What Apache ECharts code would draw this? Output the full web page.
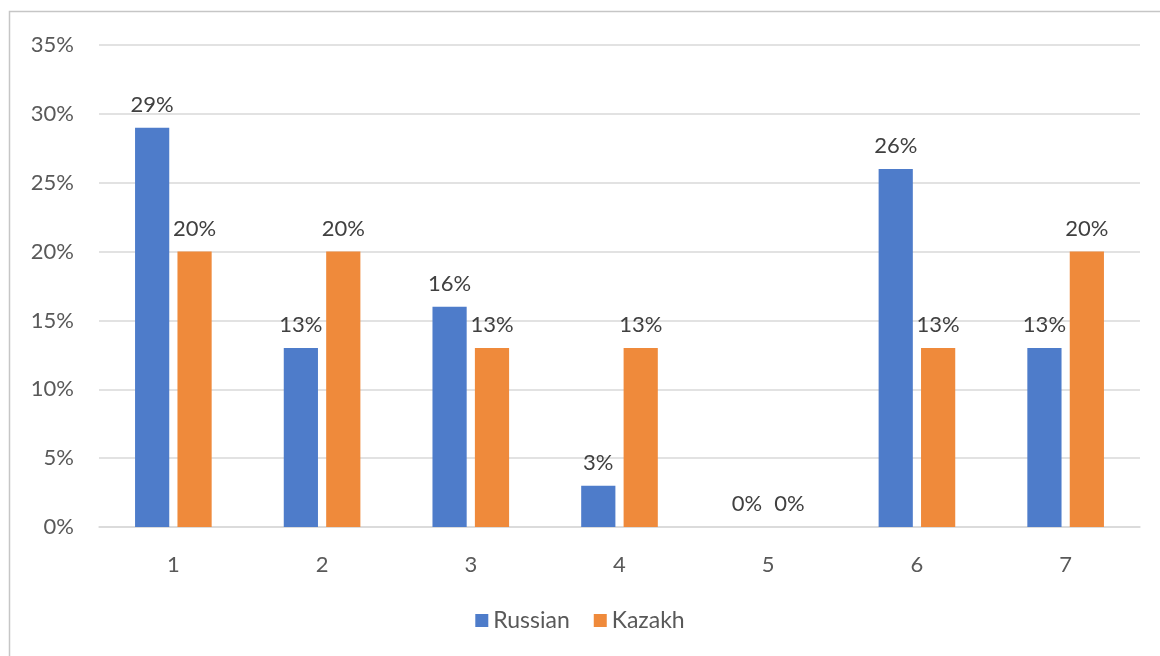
<!DOCTYPE html>
<html><head><meta charset="utf-8">
<script src="https://cdn.jsdelivr.net/npm/echarts@6/dist/echarts.min.js"></script>
<style>html,body{margin:0;padding:0;background:#fff}#c{width:1160px;height:656px}</style>
</head><body><div id="c"></div>
<script>
const categories = ['1','2','3','4','5','6','7'];
const russian = [29, 13, 16, 3, 0, 26, 13];
const kazakh = [20, 20, 13, 13, 0, 13, 20];
const yTicks = [0, 5, 10, 15, 20, 25, 30, 35];

const chart = echarts.init(document.getElementById('c'));
const font = 'Lato, "Open Sans", sans-serif';
const fs = 22;
const lbl = {show: true, position: 'top', distance: 12, formatter: p => p.value + '%', color: '#404040', fontSize: fs, fontFamily: font};
chart.setOption({
  animation: false,
  graphic: [{type: 'rect', shape: {x: 9.5, y: 11.5, width: 1200, height: 700}, style: {fill: 'none', stroke: '#c6c6c6', lineWidth: 1.5}, silent: true}],
  grid: {left: 99, right: 20, top: 45, bottom: 129},
  legend: {bottom: 19, itemWidth: 13, itemHeight: 13, itemGap: 24, icon: 'rect', textStyle: {color: '#595959', fontSize: 23, fontFamily: font}, data: ['Russian', 'Kazakh']},
  xAxis: {type: 'category', data: categories, axisTick: {show: false}, axisLine: {lineStyle: {color: '#d9d9d9', width: 1.5}}, axisLabel: {color: '#595959', fontSize: fs, fontFamily: font, margin: 27}},
  yAxis: {type: 'value', min: yTicks[0], max: yTicks[yTicks.length - 1], interval: 5, axisLine: {show: false}, axisTick: {show: false}, splitLine: {lineStyle: {color: '#d9d9d9', width: 1.5}}, axisLabel: {color: '#595959', fontSize: fs, fontFamily: font, margin: 25, formatter: v => v + '%'}},
  series: [
    {name: 'Russian', type: 'bar', data: russian, barWidth: '23%', barGap: '24%', itemStyle: {color: '#4e7cca'}, label: lbl},
    {name: 'Kazakh', type: 'bar', data: kazakh, barWidth: '23%', itemStyle: {color: '#ef8a3b'}, label: lbl}
  ]
});
</script></body></html>
